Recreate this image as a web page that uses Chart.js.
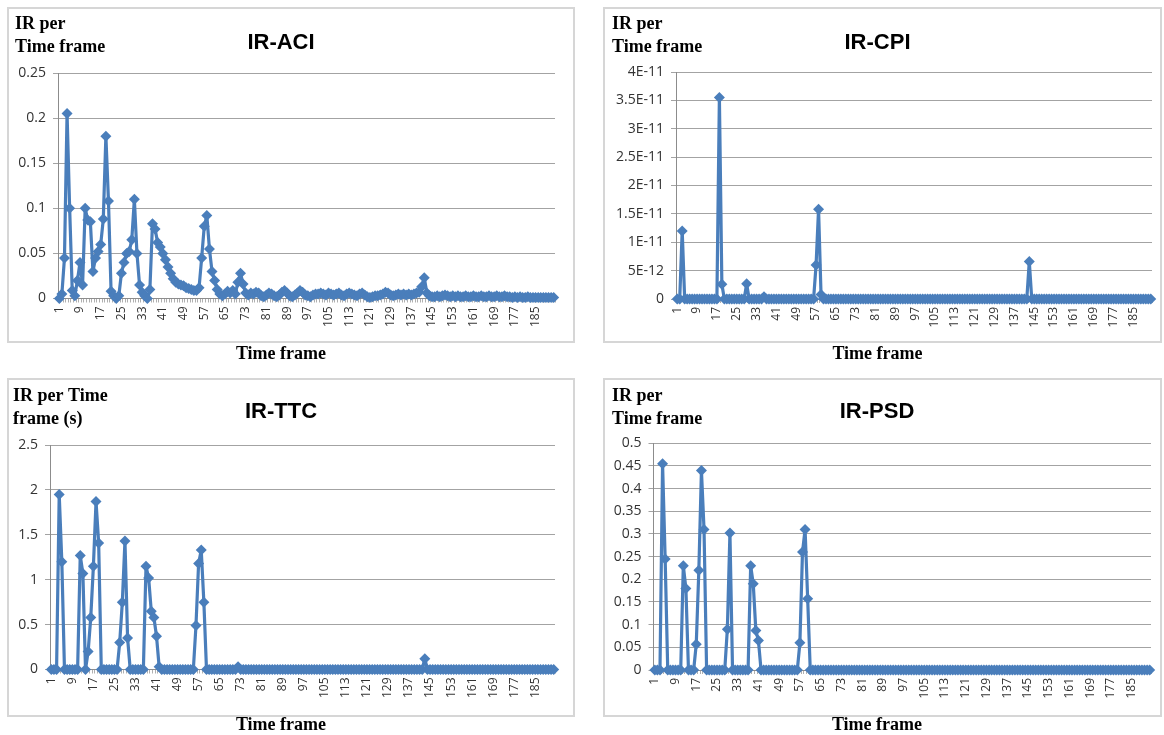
<!DOCTYPE html>
<html>
<head>
<meta charset="utf-8">
<script src="https://cdn.jsdelivr.net/npm/chart.js@4.4.1/dist/chart.umd.min.js"></script>
<style>
  html, body { margin: 0; padding: 0; background: #fff; }
  body { position: relative; width: 1164px; height: 735px; overflow: hidden; }
  .wrap { position: absolute; }
  .frame { position: absolute; box-sizing: border-box; border: 2px solid #d6d6d6; pointer-events: none; }
</style>
</head>
<body>
<div class="wrap" style="left:7px;top:7px;width:568px;height:358px"><canvas id="aci"></canvas></div>
<div class="wrap" style="left:603px;top:7px;width:559px;height:358px"><canvas id="cpi"></canvas></div>
<div class="wrap" style="left:7px;top:378px;width:568px;height:358px"><canvas id="ttc"></canvas></div>
<div class="wrap" style="left:603px;top:378px;width:559px;height:358px"><canvas id="psd"></canvas></div>
<div class="frame" style="left:7px;top:7px;width:568px;height:336px"></div>
<div class="frame" style="left:603px;top:7px;width:559px;height:336px"></div>
<div class="frame" style="left:7px;top:378px;width:568px;height:339px"></div>
<div class="frame" style="left:603px;top:378px;width:559px;height:339px"></div>
<script>
// time frames 1..192, a label under every 8th one
const frameCount = 192;
const timeFrames = Array.from({length: frameCount}, (_, i) => String(i + 1));
const labelStep = 8;

const aciValues = [
  0, 0.005, 0.045, 0.205, 0.1, 0.009, 0.003, 0.02, 0.04, 0.015, 0.1, 0.087, 0.085, 0.03, 0.045, 0.052,
  0.06, 0.088, 0.18, 0.108, 0.008, 0.003, 0, 0.003, 0.028, 0.04, 0.05, 0.052, 0.065, 0.11, 0.05, 0.015,
  0.007, 0.003, 0, 0.01, 0.083, 0.077, 0.062, 0.057, 0.05, 0.043, 0.035, 0.028, 0.022, 0.018, 0.016, 0.015,
  0.014, 0.012, 0.011, 0.01, 0.009, 0.009, 0.012, 0.045, 0.08, 0.092, 0.055, 0.03, 0.02, 0.01, 0.005, 0.003,
  0.005, 0.008, 0.006, 0.009, 0.005, 0.018, 0.028, 0.016, 0.006, 0.004, 0.006, 0.005, 0.007, 0.006, 0.003, 0.002,
  0.004, 0.006, 0.005, 0.003, 0.002, 0.004, 0.007, 0.009, 0.006, 0.003, 0.002, 0.004, 0.006, 0.009, 0.007, 0.004,
  0.003, 0.002, 0.004, 0.005, 0.005, 0.006, 0.005, 0.004, 0.006, 0.005, 0.004, 0.005, 0.006, 0.004, 0.003, 0.005,
  0.006, 0.005, 0.004, 0.003, 0.005, 0.006, 0.004, 0.002, 0.001, 0.002, 0.003, 0.003, 0.004, 0.005, 0.007, 0.006,
  0.004, 0.003, 0.004, 0.005, 0.004, 0.005, 0.004, 0.005, 0.004, 0.005, 0.006, 0.007, 0.013, 0.023, 0.006, 0.003,
  0.002, 0.002, 0.003, 0.002, 0.003, 0.004, 0.003, 0.002, 0.003, 0.002, 0.003, 0.002, 0.002, 0.003, 0.002, 0.002,
  0.003, 0.002, 0.002, 0.003, 0.002, 0.002, 0.003, 0.002, 0.002, 0.003, 0.002, 0.002, 0.003, 0.002, 0.002, 0.001,
  0.002, 0.001, 0.002, 0.001, 0.001, 0.002, 0.001, 0.001, 0.001, 0.001, 0.001, 0.001, 0.001, 0.001, 0.001, 0.001
];

const cpiValues = [
  0, 0, 1.2e-11, 0, 0, 0, 0, 0, 0, 0, 0, 0, 0, 0, 0, 0,
  0, 3.55e-11, 2.6e-12, 0, 0, 0, 0, 0, 0, 0, 0, 0, 2.7e-12, 0, 0, 0,
  0, 0, 0, 4e-13, 0, 0, 0, 0, 0, 0, 0, 0, 0, 0, 0, 0,
  0, 0, 0, 0, 0, 0, 0, 0, 6e-12, 1.58e-11, 8e-13, 0, 0, 0, 0, 0,
  0, 0, 0, 0, 0, 0, 0, 0, 0, 0, 0, 0, 0, 0, 0, 0,
  0, 0, 0, 0, 0, 0, 0, 0, 0, 0, 0, 0, 0, 0, 0, 0,
  0, 0, 0, 0, 0, 0, 0, 0, 0, 0, 0, 0, 0, 0, 0, 0,
  0, 0, 0, 0, 0, 0, 0, 0, 0, 0, 0, 0, 0, 0, 0, 0,
  0, 0, 0, 0, 0, 0, 0, 0, 0, 0, 0, 0, 0, 0, 6.6e-12, 0,
  0, 0, 0, 0, 0, 0, 0, 0, 0, 0, 0, 0, 0, 0, 0, 0,
  0, 0, 0, 0, 0, 0, 0, 0, 0, 0, 0, 0, 0, 0, 0, 0,
  0, 0, 0, 0, 0, 0, 0, 0, 0, 0, 0, 0, 0, 0, 0, 0
];

const ttcValues = [
  0, 0, 0, 1.95, 1.2, 0, 0, 0, 0, 0, 0, 1.27, 1.07, 0, 0.2, 0.58,
  1.15, 1.87, 1.41, 0, 0, 0, 0, 0, 0, 0, 0.3, 0.75, 1.43, 0.35, 0, 0,
  0, 0, 0, 0, 1.15, 1.02, 0.65, 0.58, 0.37, 0.03, 0, 0, 0, 0, 0, 0,
  0, 0, 0, 0, 0, 0, 0, 0.49, 1.18, 1.33, 0.75, 0, 0, 0, 0, 0,
  0, 0, 0, 0, 0, 0, 0, 0.03, 0, 0, 0, 0, 0, 0, 0, 0,
  0, 0, 0, 0, 0, 0, 0, 0, 0, 0, 0, 0, 0, 0, 0, 0,
  0, 0, 0, 0, 0, 0, 0, 0, 0, 0, 0, 0, 0, 0, 0, 0,
  0, 0, 0, 0, 0, 0, 0, 0, 0, 0, 0, 0, 0, 0, 0, 0,
  0, 0, 0, 0, 0, 0, 0, 0, 0, 0, 0, 0, 0, 0, 0.12, 0,
  0, 0, 0, 0, 0, 0, 0, 0, 0, 0, 0, 0, 0, 0, 0, 0,
  0, 0, 0, 0, 0, 0, 0, 0, 0, 0, 0, 0, 0, 0, 0, 0,
  0, 0, 0, 0, 0, 0, 0, 0, 0, 0, 0, 0, 0, 0, 0, 0
];

const psdValues = [
  0, 0, 0, 0.455, 0.245, 0, 0, 0, 0, 0, 0, 0.23, 0.18, 0, 0, 0,
  0.057, 0.22, 0.44, 0.31, 0, 0, 0, 0, 0, 0, 0, 0, 0.09, 0.302, 0, 0,
  0, 0, 0, 0, 0, 0.23, 0.19, 0.087, 0.065, 0, 0, 0, 0, 0, 0, 0,
  0, 0, 0, 0, 0, 0, 0, 0, 0.06, 0.26, 0.31, 0.157, 0, 0, 0, 0,
  0, 0, 0, 0, 0, 0, 0, 0, 0, 0, 0, 0, 0, 0, 0, 0,
  0, 0, 0, 0, 0, 0, 0, 0, 0, 0, 0, 0, 0, 0, 0, 0,
  0, 0, 0, 0, 0, 0, 0, 0, 0, 0, 0, 0, 0, 0, 0, 0,
  0, 0, 0, 0, 0, 0, 0, 0, 0, 0, 0, 0, 0, 0, 0, 0,
  0, 0, 0, 0, 0, 0, 0, 0, 0, 0, 0, 0, 0, 0, 0, 0,
  0, 0, 0, 0, 0, 0, 0, 0, 0, 0, 0, 0, 0, 0, 0, 0,
  0, 0, 0, 0, 0, 0, 0, 0, 0, 0, 0, 0, 0, 0, 0, 0,
  0, 0, 0, 0, 0, 0, 0, 0, 0, 0, 0, 0, 0, 0, 0, 0
];

// y tick values per chart
const aciTicks = [0, 0.05, 0.1, 0.15, 0.2, 0.25];
const cpiTicks = [0, 5e-12, 1e-11, 1.5e-11, 2e-11, 2.5e-11, 3e-11, 3.5e-11, 4e-11];
const ttcTicks = [0, 0.5, 1, 1.5, 2, 2.5];
const psdTicks = [0, 0.05, 0.1, 0.15, 0.2, 0.25, 0.3, 0.35, 0.4, 0.45, 0.5];

const blue = '#4a7ebb';
const canvasH = 358;
const titleSize = 22;
const subSize = 18;

const plainFmt = v => String(v);
const sciFmt = v => v === 0 ? '0' : v.toExponential().toUpperCase();

// draws the "IR per / Time frame" heading in the top-left corner
const headingPlugin = {
  id: 'heading',
  afterDraw(chart, args, opts) {
    const ctx = chart.ctx;
    ctx.save();
    ctx.font = 'bold 18px "Liberation Serif", "Times New Roman", serif';
    ctx.fillStyle = '#000';
    ctx.textAlign = 'left';
    ctx.textBaseline = 'middle';
    opts.lines.forEach((t, k) => ctx.fillText(t, opts.x, opts.y[k]));
    ctx.restore();
  }
};

function makeChart(id, p) {
  const w = p.width;
  const titleLH = titleSize * 1.2;
  return new Chart(document.getElementById(id), {
    type: 'line',
    data: {
      labels: timeFrames,
      datasets: [{
        data: p.values,
        borderColor: blue,
        backgroundColor: blue,
        borderWidth: 3.2,
        borderJoinStyle: 'round',
        pointStyle: 'rectRot',
        pointRadius: 5.5,
        pointBorderWidth: 0,
        pointBackgroundColor: blue,
        tension: 0,
        clip: 8
      }]
    },
    options: {
      responsive: true,
      maintainAspectRatio: false,
      animation: false,
      layout: { padding: { left: 0, right: w - p.right, top: 0, bottom: 0 } },
      plugins: {
        legend: { display: false },
        tooltip: { enabled: false },
        title: {
          display: true,
          text: p.title,
          color: '#000',
          font: { family: '"Liberation Sans", Arial, sans-serif', size: titleSize, weight: 'bold' },
          padding: { top: p.titleY - titleLH / 2, bottom: p.top - p.titleY - titleLH / 2 }
        },
        subtitle: {
          display: true,
          position: 'bottom',
          text: 'Time frame',
          color: '#000',
          font: { family: '"Liberation Serif", "Times New Roman", serif', size: subSize, weight: 'bold' },
          padding: 0
        },
        heading: { lines: p.heading, x: p.headX, y: p.headY }
      },
      scales: {
        x: {
          offset: true,
          grid: { drawOnChartArea: false, offset: true, tickLength: 4, color: '#b0b0b0' },
          border: { color: '#8c8c8c' },
          ticks: {
            autoSkip: false,
            minRotation: 90,
            maxRotation: 90,
            padding: 4,
            color: '#333',
            font: { family: '"Open Sans", sans-serif', size: 12 },
            callback: (v, i) => i % labelStep === 0 ? timeFrames[i] : ''
          },
          afterFit: s => {
            s.height = canvasH - p.bottom - subSize * 1.2;
            s.paddingLeft = 0;
            s.paddingRight = 0;
          }
        },
        y: {
          min: 0,
          max: p.ticks[p.ticks.length - 1],
          afterBuildTicks: s => { s.ticks = p.ticks.map(v => ({ value: v })); },
          grid: { color: '#a3a3a3', tickLength: 5 },
          border: { color: '#8c8c8c' },
          ticks: {
            padding: 7,
            color: '#333',
            font: { family: '"Open Sans", sans-serif', size: 14 },
            callback: p.fmt
          },
          afterFit: s => { s.width = p.left; }
        }
      }
    },
    plugins: [headingPlugin]
  });
}

makeChart('aci', {
  values: aciValues, ticks: aciTicks, fmt: plainFmt, title: 'IR-ACI',
  width: 568, left: 51, right: 548, top: 66, bottom: 291.5, titleY: 36,
  heading: ['IR per', 'Time frame'], headX: 8, headY: [17, 40]
});
makeChart('cpi', {
  values: cpiValues, ticks: cpiTicks, fmt: sciFmt, title: 'IR-CPI',
  width: 559, left: 73, right: 549, top: 65, bottom: 292, titleY: 36,
  heading: ['IR per', 'Time frame'], headX: 9, headY: [17, 40]
});
makeChart('ttc', {
  values: ttcValues, ticks: ttcTicks, fmt: plainFmt, title: 'IR-TTC',
  width: 568, left: 43, right: 548, top: 67, bottom: 291.5, titleY: 34,
  heading: ['IR per Time', 'frame (s)'], headX: 6, headY: [18.5, 41.5]
});
makeChart('psd', {
  values: psdValues, ticks: psdTicks, fmt: plainFmt, title: 'IR-PSD',
  width: 559, left: 50.5, right: 548, top: 65.3, bottom: 292, titleY: 34,
  heading: ['IR per', 'Time frame'], headX: 9, headY: [18.5, 41.5]
});
</script>
</body>
</html>
